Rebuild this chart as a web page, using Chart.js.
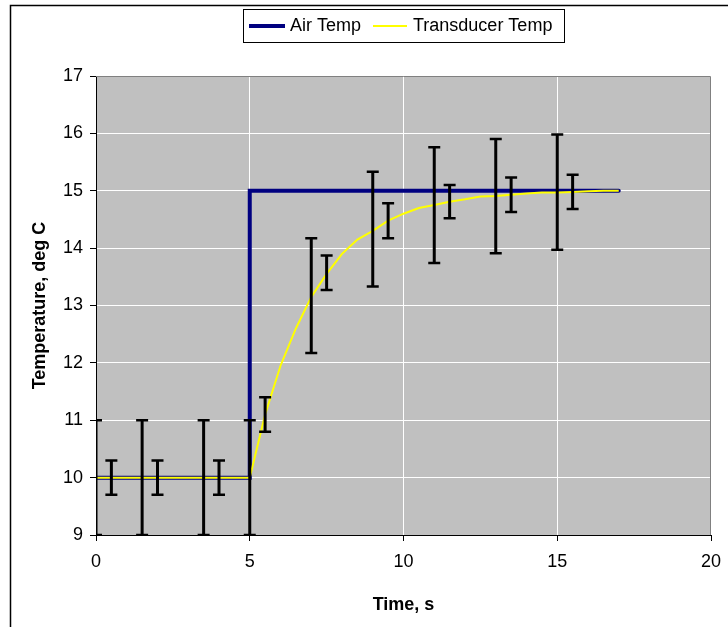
<!DOCTYPE html>
<html lang="en">
<head>
<meta charset="UTF-8">
<title>Air Temp / Transducer Temp</title>
<style>
    body { margin: 0; background: #fff; }
    canvas { display: block; }
</style>
</head>
<body>
<canvas id="myChart" width="728" height="627"></canvas>
<script src="https://cdn.jsdelivr.net/npm/chart.js"></script>
<script>
// values
var airTime = [0, 5, 5, 17];
var airTemp = [10, 10, 15, 15];

var transTime = [0, 5, 5.5, 6, 6.5, 7, 7.5, 8, 8.5, 9, 9.5, 10, 10.5, 11, 11.5, 12, 12.5, 13, 13.5, 14, 14.5, 15, 15.5, 16, 16.5, 17];
var transTemp = [10, 10, 11.1, 11.95, 12.6, 13.15, 13.55, 13.9, 14.15, 14.3, 14.48, 14.6, 14.7, 14.75, 14.81, 14.85, 14.9, 14.91, 14.93, 14.95, 14.97, 14.97, 14.98, 14.99, 15, 15];

// error bars: time, low end, high end
var barTime = [0, 0.5, 1.5, 2, 3.5, 4, 5, 5.5, 7, 7.5, 9, 9.5, 11, 11.5, 13, 13.5, 15, 15.5];
var barLow  = [9, 9.7, 9, 9.7, 9, 9.7, 9, 10.8, 12.17, 13.27, 13.33, 14.17, 13.74, 14.52, 13.91, 14.63, 13.97, 14.68];
var barHigh = [11, 10.3, 11, 10.3, 11, 10.3, 11, 11.4, 14.17, 13.87, 15.33, 14.78, 15.76, 15.1, 15.9, 15.23, 15.98, 15.28];

var xTicks = [0, 5, 10, 15, 20];
var yTicks = [9, 10, 11, 12, 13, 14, 15, 16, 17];

function points(xs, ys) {
    return xs.map(function (x, i) { return { x: x, y: ys[i] }; });
}

Chart.defaults.font.family = '"Liberation Sans", Arial, sans-serif';
Chart.defaults.font.size = 18;
Chart.defaults.color = '#000';

var excelLook = {
    id: 'excelLook',
    beforeDraw: function (chart) {
        var ctx = chart.ctx, a = chart.chartArea;
        ctx.save();
        ctx.fillStyle = '#fff';
        ctx.fillRect(0, 0, chart.width, chart.height);
        // outer frame (only left and top edges show)
        ctx.strokeStyle = '#000';
        ctx.lineWidth = 1.5;
        ctx.beginPath();
        ctx.moveTo(10.5, chart.height);
        ctx.lineTo(10.5, 5.5);
        ctx.lineTo(chart.width, 5.5);
        ctx.stroke();
        // grey plot area
        ctx.fillStyle = '#c0c0c0';
        ctx.fillRect(a.left, a.top, a.right - a.left, a.bottom - a.top);
        ctx.restore();
    },
    beforeDatasetsDraw: function (chart) {
        var ctx = chart.ctx, a = chart.chartArea;
        ctx.save();
        ctx.strokeStyle = '#808080';
        ctx.lineWidth = 1;
        ctx.beginPath();
        ctx.moveTo(a.left, a.top + 0.5);
        ctx.lineTo(a.right - 0.5, a.top + 0.5);
        ctx.lineTo(a.right - 0.5, a.bottom);
        ctx.stroke();
        ctx.restore();
    },
    afterDatasetsDraw: function (chart) {
        var ctx = chart.ctx, a = chart.chartArea;
        var xs = chart.scales.x, ys = chart.scales.y;
        ctx.save();
        ctx.beginPath();
        ctx.rect(a.left, a.top, a.right - a.left, a.bottom - a.top);
        ctx.clip();
        ctx.strokeStyle = '#000';
        ctx.lineCap = 'butt';
        for (var i = 0; i < barTime.length; i++) {
            var px = xs.getPixelForValue(barTime[i]);
            var lo = ys.getPixelForValue(barLow[i]);
            var hi = ys.getPixelForValue(barHigh[i]);
            ctx.lineWidth = 3;
            ctx.beginPath();
            ctx.moveTo(px, lo);
            ctx.lineTo(px, hi);
            ctx.stroke();
            ctx.lineWidth = 2.5;
            ctx.beginPath();
            ctx.moveTo(px - 6, lo); ctx.lineTo(px + 6, lo);
            ctx.moveTo(px - 6, hi); ctx.lineTo(px + 6, hi);
            ctx.stroke();
        }
        ctx.restore();
    },
    afterDraw: function (chart) {
        // legend box like the Excel one
        var ctx = chart.ctx;
        var sets = chart.data.datasets;
        ctx.save();
        ctx.fillStyle = '#fff';
        ctx.fillRect(243, 9, 321, 33);
        ctx.strokeStyle = '#000';
        ctx.lineWidth = 1;
        ctx.strokeRect(243.5, 9.5, 321, 33);
        var items = [
            { x0: 249, x1: 285, tx: 290, ds: sets[0] },
            { x0: 373, x1: 407, tx: 413, ds: sets[1] }
        ];
        ctx.font = '18px "Liberation Sans", Arial, sans-serif';
        ctx.textBaseline = 'middle';
        items.forEach(function (it) {
            ctx.strokeStyle = it.ds.borderColor;
            ctx.lineWidth = it.ds.borderWidth;
            ctx.beginPath();
            ctx.moveTo(it.x0, 26);
            ctx.lineTo(it.x1, 26);
            ctx.stroke();
            ctx.fillStyle = '#000';
            ctx.fillText(it.ds.label, it.tx, 26);
        });
        ctx.restore();
    }
};

var ctx = document.getElementById('myChart').getContext('2d');
var myChart = new Chart(ctx, {
    type: 'line',
    data: {
        datasets: [{
            label: 'Air Temp',
            data: points(airTime, airTemp),
            borderColor: '#000080',
            borderWidth: 4,
            borderCapStyle: 'round',
            borderJoinStyle: 'miter',
            pointRadius: 0,
            tension: 0,
            order: 2
        }, {
            label: 'Transducer Temp',
            data: points(transTime, transTemp),
            borderColor: '#ffff00',
            borderWidth: 2,
            pointRadius: 0,
            tension: 0,
            order: 1
        }]
    },
    options: {
        responsive: false,
        animation: false,
        events: [],
        layout: { padding: { left: 0, right: 17, top: 76, bottom: 0 } },
        plugins: {
            legend: { display: false },
            tooltip: { enabled: false }
        },
        scales: {
            x: {
                type: 'linear',
                min: 0,
                max: 20,
                afterBuildTicks: function (s) {
                    s.ticks = xTicks.map(function (v) { return { value: v }; });
                },
                afterFit: function (s) {
                    s.height = 92;
                    s.paddingLeft = 0;
                    s.paddingRight = 0;
                },
                grid: { color: '#fff', tickColor: '#000', tickLength: 6, lineWidth: 1 },
                border: { color: '#000', width: 1 },
                ticks: { padding: 10, maxRotation: 0 },
                title: {
                    display: true,
                    text: 'Time, s',
                    font: { weight: 'bold', size: 18 },
                    padding: { top: 0, bottom: 11 }
                }
            },
            y: {
                min: 9,
                max: 17,
                afterBuildTicks: function (s) {
                    s.ticks = yTicks.map(function (v) { return { value: v }; });
                },
                afterFit: function (s) {
                    s.width = 96;
                    s.paddingTop = 0;
                    s.paddingBottom = 0;
                },
                grid: { color: '#fff', tickColor: '#000', tickLength: 6, lineWidth: 1 },
                border: { color: '#000', width: 1 },
                ticks: { padding: 7 },
                title: {
                    display: true,
                    text: 'Temperature, deg C',
                    font: { weight: 'bold', size: 18 },
                    padding: { top: 29, bottom: 0 }
                }
            }
        }
    },
    plugins: [excelLook]
});
</script>
</body>
</html>
